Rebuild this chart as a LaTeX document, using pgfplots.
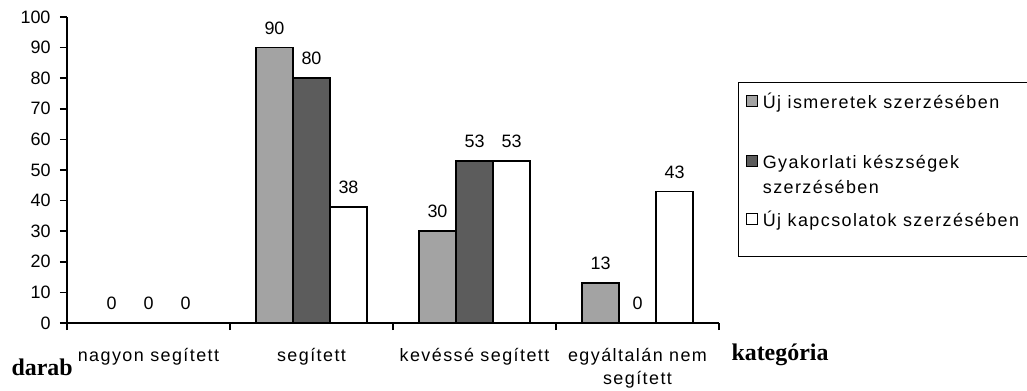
\documentclass[border=0pt]{standalone}
\usepackage{fontspec}
\setmainfont{Liberation Sans}
\newfontfamily\spc{Liberation Sans}[LetterSpace=8]
\newfontfamily\lbl{Liberation Serif}
\usepackage{pgfplots}
\pgfplotsset{compat=1.18}
\definecolor{lightbar}{HTML}{A3A3A3}
\definecolor{darkbar}{HTML}{5C5C5C}

\begin{document}
\begin{tikzpicture}
\path[use as bounding box] (-67bp,-68bp) rectangle (960bp,323bp);
\clip (-67bp,-68bp) rectangle (960bp,323bp);
\begin{axis}[
  at={(0,0)}, anchor=south west,
  scale only axis, width=652bp, height=306bp,
  clip=false,
  /pgf/number format/assume math mode=true,
  xmin=-0.5, xmax=3.5, ymin=0, ymax=100,
  axis x line=bottom, axis y line=left,
  axis line style={-, line width=1.6bp, black},
  tick align=outside, major tick length=7bp,
  ytick={0,10,...,100},
  ytick style={line width=1.6bp, black},
  yticklabel style={font=\fontsize{18}{22}\selectfont, xshift=-6bp},
  xtick={0,1,2,3},
  xtick style={draw=none},
  xticklabels={nagyon segített, segített, kevéssé segített,
    {\parbox[t]{170bp}{\centering\baselineskip=23bp egyáltalán nem\\segített}}},
  xticklabel style={font=\spc\fontsize{18}{23}\selectfont, anchor=base, yshift=-31bp},
  extra x ticks={-0.5,0.5,1.5,2.5,3.5},
  extra x tick labels={},
  extra x tick style={xtick style={draw=black, line width=1.6bp}},
  ybar=0pt, bar width=37bp,
  nodes near coords,
  every node near coord/.append style={font=\fontsize{18}{22}\selectfont, yshift=9bp},
  legend style={at={(axis description cs:1.0291,0.7876)}, anchor=north west,
    draw=black, line width=1.4bp, inner xsep=7bp, inner ysep=8bp,
    column sep=5bp,
    font=\spc\fontsize{18}{25}\selectfont,
    nodes={inner sep=0pt, text height=18bp, anchor=base west}},
  legend cell align=left,
  legend image code/.code={\draw[#1, line width=1.2bp] (0bp,2bp) rectangle (11bp,13bp);},
]
\addplot[fill=lightbar, draw=black, line width=1.6bp] coordinates {(0,0) (1,90) (2,30) (3,13)};
\addlegendentry[text depth=42bp]{Új ismeretek szerzésében}
\addplot[fill=darkbar, draw=black, line width=1.6bp] coordinates {(0,0) (1,80) (2,53) (3,0)};
\addlegendentry[text depth=40bp]{\parbox[t]{280bp}{Gyakorlati készségek\\szerzésében}}
\addplot[fill=white, draw=black, line width=1.6bp] coordinates {(0,0) (1,38) (2,53) (3,43)};
\addlegendentry[text depth=22bp]{Új kapcsolatok szerzésében}
\end{axis}
% axis titles below the plot area
\node[anchor=base west, font=\lbl\bfseries\fontsize{24}{28}\selectfont] at (-59bp,-52bp) {darab};
\node[anchor=base west, font=\lbl\bfseries\fontsize{24}{28}\selectfont] at (661bp,-37bp) {kategória};
\end{tikzpicture}
\end{document}
